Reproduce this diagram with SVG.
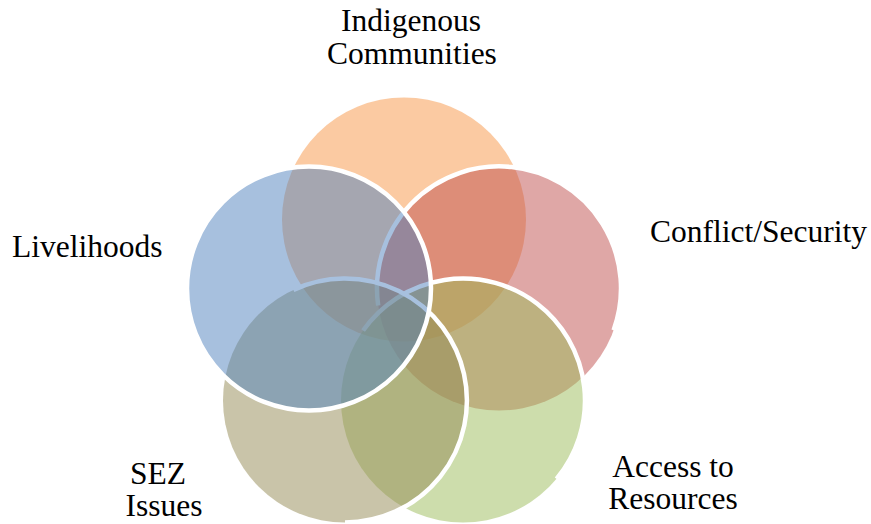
<svg xmlns="http://www.w3.org/2000/svg" width="871" height="524" viewBox="0 0 871 524">
  <style>
    .set { fill-opacity: 0.5; stroke: none; }
    .rim { fill: none; stroke: #ffffff; stroke-width: 4.5; }
    .label { font-family: "Liberation Serif", "Times New Roman", serif; font-size: 31.5px; fill: #000000; }
    .mid { text-anchor: middle; }
  </style>
  <rect x="0" y="0" width="871" height="524" fill="#ffffff"/>

  <!-- Five overlapping sets on a pentagon (centre 404,319.5; spacing 100; radius 122) -->
  <g id="indigenous-communities">
    <circle class="set" cx="404" cy="219.5" r="122" fill="#F79646"/>
    <text class="label mid" x="411" y="31">Indigenous</text>
    <text class="label mid" x="412" y="64">Communities</text>
  </g>

  <g id="conflict-security">
    <circle class="set" cx="499" cy="288.5" r="122" fill="#C0504D"/>
    <path class="rim" d="M378.2,305.5 A122,122 0 1 1 613.6,330.2"/>
    <text class="label" x="650" y="242">Conflict/Security</text>
  </g>

  <g id="access-to-resources">
    <circle class="set" cx="463" cy="400.5" r="122" fill="#9BBB59"/>
    <path class="rim" d="M363.1,330.5 A122,122 0 1 1 556.5,478.9"/>
    <text class="label mid" x="673" y="477">Access to</text>
    <text class="label mid" x="673" y="509">Resources</text>
  </g>

  <g id="sez-issues">
    <circle class="set" cx="345" cy="400.5" r="122" fill="#948A54"/>
    <path class="rim" d="M293.4,289.9 A122,122 0 1 1 345,522.5"/>
    <text class="label mid" x="158" y="484">SEZ</text>
    <text class="label mid" x="164" y="516">Issues</text>
  </g>

  <g id="livelihoods">
    <circle class="set" cx="309" cy="288.5" r="122" fill="#4F81BD"/>
    <circle class="rim" cx="309" cy="288.5" r="122"/>
    <text class="label" x="12" y="257">Livelihoods</text>
  </g>
</svg>
